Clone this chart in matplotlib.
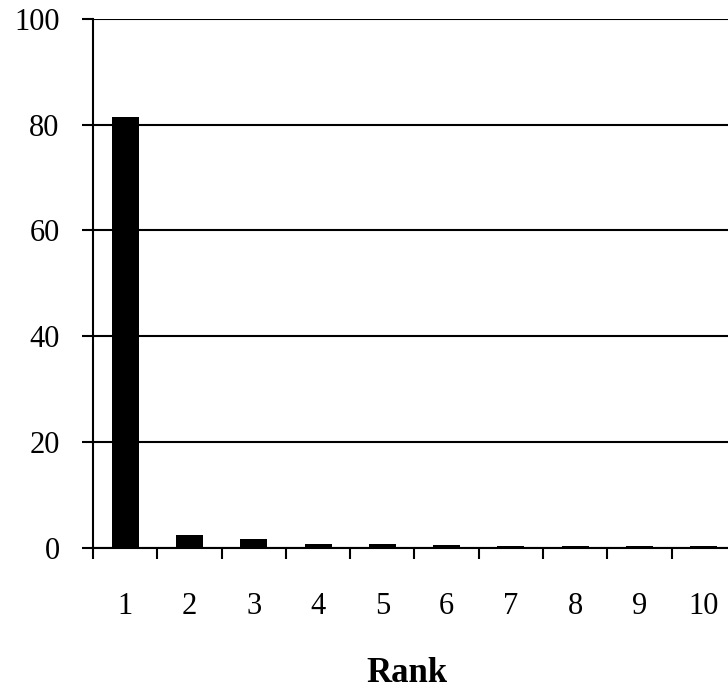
import matplotlib
matplotlib.use("Agg")
import matplotlib.pyplot as plt

ranks = [1, 2, 3, 4, 5, 6, 7, 8, 9, 10]
shares = [81.5, 2.4, 1.7, 0.8, 0.8, 0.6, 0.4, 0.4, 0.4, 0.4]
y_ticks = [0, 20, 40, 60, 80, 100]

plt.rcParams['font.family'] = ['Liberation Serif', 'DejaVu Serif']

fig = plt.figure(figsize=(7.28, 6.90), dpi=100)
ax = fig.add_axes([0.1277, 0.2058, 0.8833, 0.7671])

ax.bar(ranks, shares, width=0.42, color='black', zorder=3)

ax.set_xlim(0.5, 10.5)
ax.set_ylim(0, 100)
ax.set_yticks(y_ticks)
ax.set_yticklabels([str(v) for v in y_ticks], fontsize=22)
ax.yaxis.grid(True, color='black', linewidth=1.5, zorder=0)

# tick marks sit between the bars, labels under the bars
ax.set_xticks([r - 0.5 for r in ranks])
ax.set_xticklabels([])
ax.set_xticks(ranks, minor=True)
ax.set_xticklabels([str(r) for r in ranks], minor=True, fontsize=22)
ax.tick_params(axis='x', which='major', direction='out', length=8, width=1.5)
ax.tick_params(axis='x', which='minor', length=0, pad=31.5)
ax.tick_params(axis='y', direction='out', length=8, width=1.5, pad=16)

for side in ['top', 'right']:
    ax.spines[side].set_visible(False)
for side in ['left', 'bottom']:
    ax.spines[side].set_linewidth(1.5)

ax.set_xlabel('Rank', fontsize=25, fontweight='bold', labelpad=26)
ax.xaxis.label.set_x(0.488)

fig.savefig('out.png', dpi=100)
